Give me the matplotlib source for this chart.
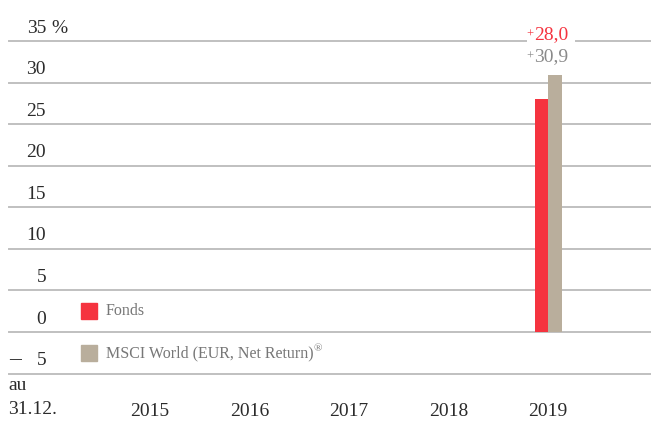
import matplotlib.pyplot as plt
import numpy as np
from matplotlib import transforms

plt.rcParams['font.family'] = ['Liberation Serif', 'DejaVu Serif']

# data
years = [2015, 2016, 2017, 2018, 2019]
fonds = [np.nan, np.nan, np.nan, np.nan, 28.0]
msci = [np.nan, np.nan, np.nan, np.nan, 30.9]
fonds_labels = ['', '', '', '', '28,0']
msci_labels = ['', '', '', '', '30,9']
yticks = [35, 30, 25, 20, 15, 10, 5, 0, -5]
ytick_labels = ['35', '30', '25', '20', '15', '10', '5', '0', '5']

RED = '#f5333f'
BEIGE = '#b9ae9c'
GRID = '#c0c0c0'
TXT = '#2b2b2b'

W, H = 651, 421
fig = plt.figure(figsize=(W / 100, H / 100), dpi=100)
ax = fig.add_axes([0, 0, 1, 1])
ax.axis('off')

# pixel layout: 2015 at x=150px, 2019 at x=548px ; 0 at y=332px
px_year = (548 - 150) / 4
x0 = 2015 - 150 / px_year
ax.set_xlim(x0, x0 + W / px_year)
px_unit = (332 - 41) / 35
ax.set_ylim(-(H - 332) / px_unit, 332 / px_unit)

# gridlines
for v in yticks:
    ax.axhline(v, xmin=9 / W, xmax=1, color=GRID, lw=1.4, zorder=1)

# bars
bw = 13.5 / px_year
x = np.array(years, dtype=float)
ax.bar(x - bw / 2, fonds, width=bw, color=RED, zorder=3)
ax.bar(x + bw / 2, msci, width=bw, color=BEIGE, zorder=3)

# value labels above the bars
for xi, lab in zip(x, fonds_labels):
    if lab:
        ax.annotate(lab, (xi, 35), xytext=(3, 6), textcoords='offset pixels',
                    ha='center', va='center', fontsize=14, color=RED,
                    bbox=dict(facecolor='white', edgecolor='none', pad=5), zorder=4)
        ax.annotate('+', (xi, 35), xytext=(-18, 6), textcoords='offset pixels',
                    ha='center', va='center', fontsize=9, color=RED, zorder=5)
for xi, lab in zip(x, msci_labels):
    if lab:
        ax.annotate(lab, (xi, 35), xytext=(3, -16), textcoords='offset pixels',
                    ha='center', va='center', fontsize=14, color='#8a8a8a', zorder=4)
        ax.annotate('+', (xi, 35), xytext=(-18, -16), textcoords='offset pixels',
                    ha='center', va='center', fontsize=9, color='#8a8a8a', zorder=5)

# y tick labels (sit above their gridline)
tr = transforms.blended_transform_factory(ax.transAxes, ax.transData)
for v, lab in zip(yticks, ytick_labels):
    ax.annotate(lab, (46 / W, v), xycoords=tr, xytext=(0, 13), textcoords='offset pixels',
                ha='right', va='center', fontsize=14, color=TXT)
ax.annotate('%', (51 / W, 35), xycoords=tr, xytext=(0, 13), textcoords='offset pixels',
            ha='left', va='center', fontsize=14, color=TXT)
ax.annotate('–', (9 / W, -5), xycoords=tr, xytext=(0, 14), textcoords='offset pixels',
            ha='left', va='center', fontsize=17, color=TXT)

# x labels
for xi in x:
    ax.text(xi, -(411 - 332) / px_unit, str(int(xi)), ha='center', va='center',
            fontsize=14, color=TXT)
ax.text(8 / W, 1 - 386 / H, 'au', transform=ax.transAxes, ha='left', va='center',
        fontsize=14, color=TXT)
ax.text(8 / W, 1 - 410 / H, '31.12.', transform=ax.transAxes, ha='left', va='center',
        fontsize=14, color=TXT)

# legend
fig.patches.append(plt.Rectangle((81 / W, 1 - 319 / H), 16 / W, 16 / H,
                                 transform=fig.transFigure, color=RED))
fig.patches.append(plt.Rectangle((81 / W, 1 - 361 / H), 16 / W, 16 / H,
                                 transform=fig.transFigure, color=BEIGE))
fig.text(106 / W, 1 - 311 / H, 'Fonds', ha='left', va='center', fontsize=11.5, color='#777777')
fig.text(106 / W, 1 - 353 / H, 'MSCI World (EUR, Net Return)', ha='left', va='center',
         fontsize=11.5, color='#777777')
fig.text(314 / W, 1 - 349 / H, '®', ha='left', va='center', fontsize=8, color='#777777')

fig.savefig('out.png', dpi=100)
